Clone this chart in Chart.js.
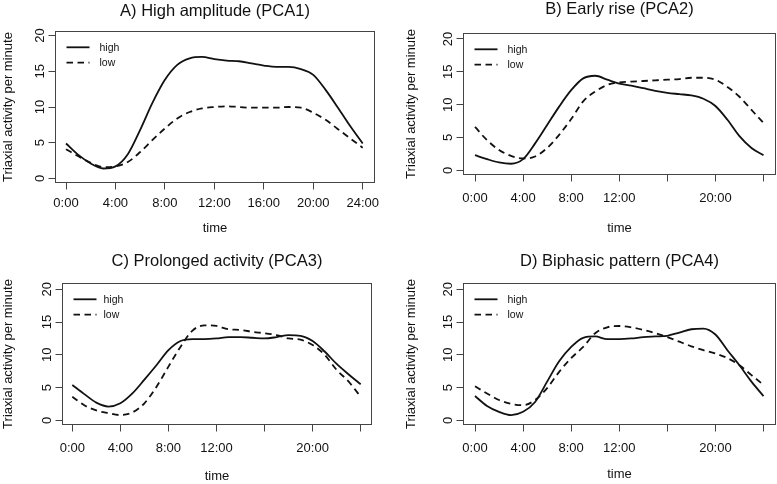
<!DOCTYPE html>
<html>
<head>
<meta charset="utf-8">
<script src="https://cdn.jsdelivr.net/npm/chart.js@4/dist/chart.umd.min.js"></script>
<style>
html,body{margin:0;padding:0;background:#fff;width:777px;height:484px;overflow:hidden;position:relative}
canvas{position:absolute}
</style>
</head>
<body>
<canvas id="cA" width="388" height="242" style="left:0;top:0"></canvas>
<canvas id="cB" width="389" height="242" style="left:388px;top:0"></canvas>
<canvas id="cC" width="388" height="242" style="left:0;top:242px"></canvas>
<canvas id="cD" width="389" height="242" style="left:388px;top:242px"></canvas>
<script>
// ---------- data ----------
const hours = [0,1,2,3,4,5,6,7,8,9,10,11,12,13,14,15,16,17,18,19,20,21,22,23,24];
const xTickValues = [0,4,8,12,16,20,24];
const xTickLabelsFull = ['0:00','4:00','8:00','12:00','16:00','20:00','24:00'];
const xTickLabelsSparse = ['0:00','4:00','8:00','12:00','','20:00',''];
const yTickValues = [0,5,10,15,20];
const seriesNames = ['high','low'];
const panelTitles = ['A) High amplitude (PCA1)','B) Early rise (PCA2)','C) Prolonged activity (PCA3)','D) Biphasic pattern (PCA4)'];
const xAxisTitle = 'time';
const yAxisTitle = 'Triaxial activity per minute';

const pca1High = [4.9,3.3,2.1,1.4,1.7,3.4,6.8,10.6,13.8,15.9,16.8,17.0,16.7,16.5,16.4,16.1,15.8,15.6,15.6,15.3,14.5,12.4,9.9,7.3,4.9];
const pca1Low  = [4.1,3.1,2.2,1.6,1.7,2.3,3.7,5.4,7.0,8.4,9.3,9.8,10.0,10.1,10.0,9.9,9.9,9.9,10.0,9.9,9.2,8.2,6.9,5.6,4.3];
const pca2High = [2.3,1.7,1.2,1.0,1.7,4.1,6.9,9.7,12.2,14.0,14.4,13.8,13.2,12.9,12.5,12.1,11.8,11.6,11.4,10.9,9.8,7.7,5.2,3.4,2.3];
const pca2Low  = [6.6,4.6,3.1,2.2,1.8,2.1,3.4,5.4,7.8,10.5,12.0,13.0,13.4,13.5,13.6,13.7,13.8,13.9,14.1,14.1,13.8,12.7,11.2,9.2,7.2];
const pca3High = [5.4,4.0,2.7,2.1,2.6,4.1,6.2,8.4,10.7,12.1,12.4,12.4,12.5,12.7,12.7,12.6,12.5,12.7,13.0,12.9,12.1,10.5,8.6,7.0,5.5];
const pca3Low  = [3.6,2.3,1.5,1.1,0.8,1.2,2.6,5.1,8.2,11.2,13.7,14.5,14.4,13.9,13.8,13.5,13.3,13.0,12.5,12.3,11.5,10.0,7.7,5.9,3.6];
const pca4High = [3.7,2.2,1.3,0.8,1.3,2.8,5.9,9.0,11.2,12.6,12.8,12.4,12.4,12.5,12.7,12.8,12.9,13.4,13.9,14.0,13.1,10.7,8.4,5.9,3.7];
const pca4Low  = [5.2,4.1,3.1,2.5,2.3,3.1,4.9,7.4,9.5,11.2,13.3,14.2,14.4,14.2,13.8,13.3,12.7,12.0,11.3,10.7,10.2,9.5,8.4,6.9,5.4];

// ---------- layout (pixels relative to each canvas) ----------
const FONT = '"Liberation Sans", Arial, Helvetica, sans-serif';
const TEXT = '#111';
const AXIS = '#444';
Chart.defaults.font.family = FONT;
Chart.defaults.color = TEXT;

const panels = [
  {id:'cA', title:panelTitles[0], high:pca1High, low:pca1Low, labels:xTickLabelsFull,
   W:388, H:242, boxL:55, boxR:375, boxT:31, boxB:183, x0:66, x24:362.7, y0:178.5, y20:35.5,
   titleMid:11, yTitleMid:8.5, xTitleMid:228.5, tickMid:203, yLabGap:11, legTextGap:10},
  {id:'cB', title:panelTitles[1], high:pca2High, low:pca2Low, labels:xTickLabelsSparse,
   W:389, H:242, boxL:75, boxR:388, boxT:33, boxB:175, x0:87, x24:375.5, y0:170.3, y20:39,
   titleMid:9.5, yTitleMid:23.5, xTitleMid:228.2, tickMid:198.5, yLabGap:11, legTextGap:10},
  {id:'cC', title:panelTitles[2], high:pca3High, low:pca3Low, labels:xTickLabelsSparse,
   W:388, H:242, boxL:62, boxR:372, boxT:41, boxB:183, x0:72.3, x24:360.7, y0:178.3, y20:47.3,
   titleMid:19, yTitleMid:8.8, xTitleMid:234.2, tickMid:206, yLabGap:11, legTextGap:7},
  {id:'cD', title:panelTitles[3], high:pca4High, low:pca4Low, labels:xTickLabelsSparse,
   W:389, H:242, boxL:75, boxR:388, boxT:41, boxB:183, x0:87, x24:375.5, y0:178.3, y20:47.3,
   titleMid:19.5, yTitleMid:23.5, xTitleMid:232.8, tickMid:206, yLabGap:11, legTextGap:10}
];

const TITLE_FS = 16.5, LAB_FS = 13, LEG_FS = 10.5, TICK_LEN = 6.5;

const rStyle = {
  id: 'rStyle',
  afterDraw(chart, args, o) {
    const {ctx, chartArea: a} = chart;
    const ys = chart.scales.y;
    ctx.save();
    // plot box
    ctx.strokeStyle = AXIS; ctx.lineWidth = 1;
    ctx.strokeRect(a.left + 0.5, a.top + 0.5, a.right - a.left - 1, a.bottom - a.top - 1);
    // rotated y tick labels (R style, parallel to axis)
    ctx.fillStyle = TEXT;
    ctx.font = LAB_FS + 'px ' + FONT;
    ctx.textAlign = 'center'; ctx.textBaseline = 'alphabetic';
    ys.ticks.forEach(t => {
      const py = ys.getPixelForValue(t.value);
      ctx.save();
      ctx.translate(a.left - o.yLabGap, py);
      ctx.rotate(-Math.PI / 2);
      ctx.fillText(String(t.value), 0, 0);
      ctx.restore();
    });
    // legend (top-left, no frame)
    ctx.font = LEG_FS + 'px ' + FONT;
    ctx.textAlign = 'left'; ctx.textBaseline = 'middle';
    chart.data.datasets.forEach((ds, i) => {
      const ly = a.top + 16.3 + i * 15.3;
      const lx = a.left + 11.5;
      ctx.beginPath();
      ctx.setLineDash(ds.borderDash || []);
      ctx.lineWidth = ds.borderWidth;
      ctx.strokeStyle = ds.borderColor;
      ctx.moveTo(lx, ly); ctx.lineTo(lx + 23, ly);
      ctx.stroke();
      ctx.setLineDash([]);
      ctx.fillStyle = TEXT;
      ctx.fillText(ds.label, lx + 23 + o.legTextGap, ly + 0.5);
    });
    ctx.restore();
  }
};

panels.forEach(p => {
  const bL = p.boxL, bR = p.boxR, bT = p.boxT, bB = p.boxB;
  const ppx = (p.x24 - p.x0) / 24;
  const xMin = (bL - p.x0) / ppx, xMax = 24 + (bR - p.x24) / ppx;
  const ppu = (p.y0 - p.y20) / 20;
  const yMin = -(bB - p.y0) / ppu, yMax = 20 + (p.y20 - bT) / ppu;
  const titlePadTop = p.titleMid - TITLE_FS / 2;
  const titlePadBottom = bT - TITLE_FS - titlePadTop;
  const tickPad = p.tickMid - bB - TICK_LEN - LAB_FS / 2;

  new Chart(document.getElementById(p.id), {
    type: 'line',
    data: {
      datasets: [
        {label: seriesNames[0], data: hours.map((h, i) => ({x: h, y: p.high[i]})),
         borderColor: '#111', borderWidth: 1.8, pointRadius: 0, fill: false,
         cubicInterpolationMode: 'monotone'},
        {label: seriesNames[1], data: hours.map((h, i) => ({x: h, y: p.low[i]})),
         borderColor: '#111', borderWidth: 1.8, borderDash: [6.5, 4.5], pointRadius: 0, fill: false,
         cubicInterpolationMode: 'monotone'}
      ]
    },
    options: {
      responsive: false,
      animation: false,
      devicePixelRatio: 1,
      layout: {padding: {left: 0, top: 0, right: p.W - bR, bottom: 0}},
      plugins: {
        legend: {display: false},
        tooltip: {enabled: false},
        title: {display: true, text: p.title, fullSize: false, color: TEXT,
                font: {size: TITLE_FS, weight: 'normal', lineHeight: 1},
                padding: {top: titlePadTop, bottom: titlePadBottom}},
        rStyle: {yLabGap: p.yLabGap, legTextGap: p.legTextGap}
      },
      scales: {
        x: {
          type: 'linear', min: xMin, max: xMax, bounds: 'data',
          afterBuildTicks: s => { s.ticks = xTickValues.map(v => ({value: v})); },
          afterFit: s => { s.height = p.H - bB; },
          grid: {display: true, drawOnChartArea: false, drawTicks: true, tickLength: TICK_LEN, color: AXIS},
          border: {display: false},
          ticks: {autoSkip: false, maxRotation: 0, minRotation: 0, padding: tickPad, color: TEXT,
                  font: {size: LAB_FS, lineHeight: 1},
                  callback: (v, i) => p.labels[i]},
          title: {display: true, text: xAxisTitle, color: TEXT, font: {size: LAB_FS, lineHeight: 1},
                  padding: {top: 0, bottom: p.H - LAB_FS / 2 - p.xTitleMid}}
        },
        y: {
          type: 'linear', min: yMin, max: yMax, bounds: 'data',
          afterBuildTicks: s => { s.ticks = yTickValues.map(v => ({value: v})); },
          afterFit: s => { s.width = bL; },
          grid: {display: true, drawOnChartArea: false, drawTicks: true, tickLength: TICK_LEN, color: AXIS},
          border: {display: false},
          ticks: {display: false},
          title: {display: true, text: yAxisTitle, color: TEXT, font: {size: LAB_FS, lineHeight: 1},
                  padding: {top: p.yTitleMid - LAB_FS / 2, bottom: 0}}
        }
      }
    },
    plugins: [rStyle]
  });
});
</script>
</body>
</html>
